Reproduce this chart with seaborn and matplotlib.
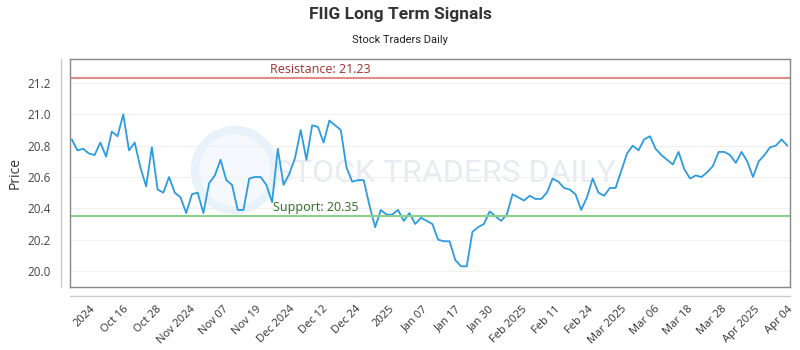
import matplotlib
matplotlib.use("Agg")
import matplotlib.pyplot as plt
from matplotlib.patches import Ellipse
from matplotlib.lines import Line2D
import numpy as np
import pandas as pd
import seaborn as sns

# daily closing prices, Oct 2024 - Apr 2025
prices = [
    20.84, 20.77, 20.78, 20.75, 20.74, 20.82, 20.73, 20.89, 20.86, 21.00,
    20.77, 20.82, 20.66, 20.54, 20.79, 20.52, 20.50, 20.60, 20.50, 20.47,
    20.37, 20.49, 20.50, 20.37, 20.56, 20.61, 20.71, 20.58, 20.55, 20.39,
    20.39, 20.59, 20.60, 20.60, 20.55, 20.44, 20.78, 20.55, 20.62, 20.72,
    20.90, 20.71, 20.93, 20.92, 20.82, 20.96, 20.93, 20.90, 20.66, 20.57,
    20.58, 20.58, 20.42, 20.28, 20.39, 20.36, 20.36, 20.39, 20.32, 20.37,
    20.30, 20.34, 20.32, 20.30, 20.20, 20.19, 20.19, 20.07, 20.03, 20.03,
    20.25, 20.28, 20.30, 20.38, 20.35, 20.32, 20.36, 20.49, 20.47, 20.45,
    20.48, 20.46, 20.46, 20.50, 20.59, 20.57, 20.53, 20.52, 20.49, 20.39,
    20.47, 20.59, 20.50, 20.48, 20.53, 20.53, 20.64, 20.75, 20.80, 20.77,
    20.84, 20.86, 20.78, 20.74, 20.71, 20.68, 20.76, 20.65, 20.59, 20.61,
    20.60, 20.63, 20.67, 20.76, 20.76, 20.74, 20.69, 20.76, 20.70, 20.60,
    20.70, 20.74, 20.79, 20.80, 20.84, 20.80,
]

tick_labels = [
    "2024", "Oct 16", "Oct 28", "Nov 2024", "Nov 07", "Nov 19", "Dec 2024",
    "Dec 12", "Dec 24", "2025", "Jan 07", "Jan 17", "Jan 30", "Feb 2025",
    "Feb 11", "Feb 24", "Mar 2025", "Mar 06", "Mar 18", "Mar 28", "Apr 2025",
    "Apr 04",
]

resistance = 21.23
support = 20.35

df = pd.DataFrame({"day": np.arange(len(prices)), "price": prices})

sns.set_style("white")
plt.rcParams["font.family"] = ["Open Sans", "DejaVu Sans"]

fig = plt.figure(figsize=(8, 3.5), dpi=100)
ax = fig.add_axes([0.0875, 0.18, 0.9, 0.6514])

sns.lineplot(data=df, x="day", y="price", ax=ax, color="#2d9be0", linewidth=1.3)

ax.axhline(resistance, color="#e08a8a", linewidth=1.5)
ax.axhline(support, color="#8cce8c", linewidth=1.5)
ax.text(43.4, resistance + 0.012, f"Resistance: {resistance:.2f}", color="#a03030",
        fontsize=9, ha="center", va="bottom")
ax.text(42.7, support + 0.012, f"Support: {support:.2f}", color="#2e6b1f",
        fontsize=9, ha="center", va="bottom")

# watermark
ax.add_patch(Ellipse((0.229, 0.513), 0.111, 0.351, transform=ax.transAxes,
                     facecolor="#f5f9fd", edgecolor="#e8f2fa", linewidth=6, zorder=0))
ax.text(0.52, 0.50, "STOCK TRADERS DAILY", transform=ax.transAxes,
        fontsize=23, color="#e8ecf0", ha="center", va="center", zorder=0,
        family=["Roboto", "DejaVu Sans"])

ax.set_xlim(-0.3, 125.47)
ax.set_ylim(19.898, 21.353)
ax.set_yticks([20.0, 20.2, 20.4, 20.6, 20.8, 21.0, 21.2])
ax.set_yticklabels([f"{v:.1f}" for v in ax.get_yticks()], fontsize=8.5, color="#444")
ax.set_xticks(np.linspace(3.2, 125, len(tick_labels)))
ax.set_xticklabels(tick_labels, rotation=45, ha="right", va="top",
                   rotation_mode="anchor", fontsize=8, color="#333")
ax.tick_params(axis="both", length=0)
ax.tick_params(axis="x", pad=12)
ax.tick_params(axis="y", pad=14)
ax.grid(axis="y", color="#f0f0f0", linewidth=0.8)
ax.set_xlabel("")
ax.set_ylabel("Price", fontsize=10, color="#333", labelpad=3)

for s in ax.spines.values():
    s.set_color("#888888")
    s.set_linewidth(1)

# outer axis lines
fig.add_artist(Line2D([0.0875, 0.9875], [1 - 296 / 350] * 2, color="#cccccc", linewidth=1))
fig.add_artist(Line2D([61 / 800] * 2, [0.18, 1 - 59 / 350], color="#cccccc", linewidth=1))

fig.text(0.5, 1 - 15 / 350, "FIIG Long Term Signals", ha="center", va="center",
         fontsize=12.5, fontweight="bold", color="#333",
         family=["Roboto", "DejaVu Sans"])
fig.text(0.5, 1 - 40 / 350, "Stock Traders Daily", ha="center", va="center",
         fontsize=8, color="#222", family=["Roboto", "DejaVu Sans"])

fig.savefig("out.png", dpi=100)
